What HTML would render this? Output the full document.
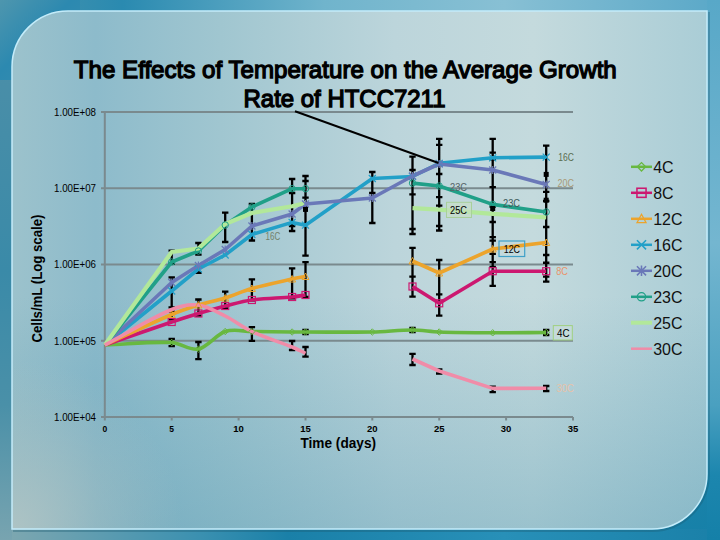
<!DOCTYPE html>
<html><head><meta charset="utf-8"><style>
html,body{margin:0;padding:0;width:720px;height:540px;overflow:hidden;}
svg{display:block;font-family:"Liberation Sans",sans-serif;}
</style></head><body>
<svg width="720" height="540" viewBox="0 0 720 540">
<defs>
<linearGradient id="bgd" x1="0" y1="0" x2="1" y2="1">
<stop offset="0" stop-color="#4a92aa"/><stop offset="0.5" stop-color="#3a90b0"/><stop offset="1" stop-color="#1580a8"/>
</linearGradient>
<linearGradient id="bgt" x1="0" y1="0" x2="1" y2="0">
<stop offset="0" stop-color="#4a94ac"/><stop offset="0.17" stop-color="#2a8ab0"/><stop offset="0.45" stop-color="#70b4cc"/><stop offset="0.7" stop-color="#88c0d4"/><stop offset="1" stop-color="#5aa8c8"/>
</linearGradient>
<linearGradient id="bgb" x1="0" y1="0" x2="1" y2="0">
<stop offset="0" stop-color="#80a8b0"/><stop offset="0.28" stop-color="#3a90b0"/><stop offset="0.4" stop-color="#1a80a8"/><stop offset="0.7" stop-color="#2890b8"/><stop offset="1" stop-color="#1a80a8"/>
</linearGradient>
<linearGradient id="bgl" x1="0" y1="0" x2="0" y2="1">
<stop offset="0" stop-color="#5090a8"/><stop offset="0.5" stop-color="#3a8aa8"/><stop offset="0.75" stop-color="#4a90a8"/><stop offset="1" stop-color="#78a4b0"/>
</linearGradient>
<linearGradient id="bgr" x1="0" y1="0" x2="0" y2="1">
<stop offset="0" stop-color="#58a8c8"/><stop offset="0.45" stop-color="#74b6d0"/><stop offset="0.75" stop-color="#4aa0c0"/><stop offset="0.88" stop-color="#1c86ae"/><stop offset="1" stop-color="#1580a8"/>
</linearGradient>
<linearGradient id="pn" x1="0" y1="0" x2="1" y2="0">
<stop offset="0" stop-color="#9cc2cc"/><stop offset="0.12" stop-color="#8dbbcb"/><stop offset="0.3" stop-color="#a0c6d0"/>
<stop offset="0.55" stop-color="#bcd5db"/><stop offset="0.75" stop-color="#c4dadd"/><stop offset="1" stop-color="#aacdd6"/>
</linearGradient>
<linearGradient id="pnv" x1="0" y1="0" x2="0" y2="1">
<stop offset="0" stop-color="#3a8aa8" stop-opacity="0"/><stop offset="0.55" stop-color="#3a8aa8" stop-opacity="0"/><stop offset="1" stop-color="#3a8aa8" stop-opacity="0.3"/>
</linearGradient>
<linearGradient id="ctl" gradientUnits="userSpaceOnUse" x1="0" y1="0" x2="80" y2="80">
<stop offset="0" stop-color="#4e96ae"/><stop offset="0.45" stop-color="#2c89b0"/><stop offset="1" stop-color="#3a8eb0"/>
</linearGradient>
<radialGradient id="pbl" cx="12" cy="529" r="170" gradientUnits="userSpaceOnUse">
<stop offset="0" stop-color="#b0c4c4" stop-opacity="0.95"/><stop offset="1" stop-color="#b0c4c4" stop-opacity="0"/>
</radialGradient>
</defs>
<rect x="0" y="0" width="720" height="540" fill="url(#bgd)"/>
<rect x="0" y="0" width="720" height="11" fill="url(#bgt)"/>
<rect x="0" y="529" width="720" height="11" fill="url(#bgb)"/>
<rect x="0" y="0" width="12" height="540" fill="url(#bgl)"/>
<rect x="707" y="0" width="13" height="540" fill="url(#bgr)"/>
<rect x="0" y="0" width="80" height="80" fill="url(#ctl)"/>
<path d="M709,12 V474 A57,57 0 0 1 652,531 H13" fill="none" stroke="#1a5a70" stroke-opacity="0.35" stroke-width="2"/>
<path d="M68,11 H707 V474 A55,55 0 0 1 652,529 H12 V67 A56,56 0 0 1 68,11 Z" fill="url(#pn)"/>
<path d="M68,11 H707 V474 A55,55 0 0 1 652,529 H12 V67 A56,56 0 0 1 68,11 Z" fill="url(#pnv)"/>
<path d="M68,11 H707 V474 A55,55 0 0 1 652,529 H12 V67 A56,56 0 0 1 68,11 Z" fill="url(#pbl)"/>
<path d="M68,11 H707 V474 A55,55 0 0 1 652,529 H12 V67 A56,56 0 0 1 68,11 Z" fill="none" stroke="#c4ecfa" stroke-width="1.5"/>
<line x1="101" y1="112" x2="573" y2="112" stroke="#7a8a8e" stroke-width="2"/>
<line x1="101" y1="188.25" x2="573" y2="188.25" stroke="#7a8a8e" stroke-width="2"/>
<line x1="101" y1="264.5" x2="573" y2="264.5" stroke="#7a8a8e" stroke-width="2"/>
<line x1="101" y1="340.75" x2="573" y2="340.75" stroke="#7a8a8e" stroke-width="2"/>
<line x1="101" y1="417" x2="573" y2="417" stroke="#7a8a8e" stroke-width="2"/>
<line x1="104.8" y1="111" x2="104.8" y2="418" stroke="#7a8a8e" stroke-width="2"/>
<line x1="104.8" y1="417" x2="104.8" y2="420.5" stroke="#7a8a8e" stroke-width="2"/>
<line x1="171.7" y1="417" x2="171.7" y2="420.5" stroke="#7a8a8e" stroke-width="2"/>
<line x1="238.6" y1="417" x2="238.6" y2="420.5" stroke="#7a8a8e" stroke-width="2"/>
<line x1="305.5" y1="417" x2="305.5" y2="420.5" stroke="#7a8a8e" stroke-width="2"/>
<line x1="372.3" y1="417" x2="372.3" y2="420.5" stroke="#7a8a8e" stroke-width="2"/>
<line x1="439.2" y1="417" x2="439.2" y2="420.5" stroke="#7a8a8e" stroke-width="2"/>
<line x1="506.1" y1="417" x2="506.1" y2="420.5" stroke="#7a8a8e" stroke-width="2"/>
<line x1="573.0" y1="417" x2="573.0" y2="420.5" stroke="#7a8a8e" stroke-width="2"/>
<path d="M171.7,250.7V263.7 M168.5,250.7H174.9 M168.5,263.7H174.9 M171.7,277.4V307.3 M168.5,277.4H174.9 M168.5,307.3H174.9 M171.7,311.7V319.4 M168.5,311.7H174.9 M168.5,319.4H174.9 M171.7,338.9V346.2 M168.5,338.9H174.9 M168.5,346.2H174.9 M198.4,243V254.6 M195.2,243H201.6 M195.2,254.6H201.6 M198.4,266.3V272.8 M195.2,266.3H201.6 M195.2,272.8H201.6 M198.4,299.5V315.6 M195.2,299.5H201.6 M195.2,315.6H201.6 M198.4,342V359.1 M195.2,342H201.6 M195.2,359.1H201.6 M225.2,212.7V242 M222.0,212.7H228.4 M222.0,242H228.4 M225.2,291.6V308.3 M222.0,291.6H228.4 M222.0,308.3H228.4 M251.9,204V240.5 M248.7,204H255.1 M248.7,240.5H255.1 M251.9,279.3V300.4 M248.7,279.3H255.1 M248.7,300.4H255.1 M251.9,327.2V340.8 M248.7,327.2H255.1 M248.7,340.8H255.1 M292.1,179V231 M288.9,179H295.3 M288.9,193H295.3 M288.9,226H295.3 M288.9,231H295.3 M292.1,268.3V298.3 M288.9,268.3H295.3 M288.9,298.3H295.3 M292.1,341V350 M288.9,341H295.3 M288.9,350H295.3 M305.5,176V255.7 M302.3,176H308.7 M302.3,181H308.7 M302.3,197.6H308.7 M302.3,255.7H308.7 M305.5,262.2V297 M302.3,262.2H308.7 M302.3,297H308.7 M305.5,330V334 M302.3,330H308.7 M302.3,334H308.7 M305.5,347V356.7 M302.3,347H308.7 M302.3,356.7H308.7 M372.3,172V223 M369.1,172H375.5 M369.1,193H375.5 M369.1,223H375.5 M412.5,156.7V234 M409.3,156.7H415.7 M409.3,170H415.7 M409.3,194.3H415.7 M409.3,229H415.7 M409.3,234H415.7 M412.5,247.8V296.7 M409.3,247.8H415.7 M409.3,276.7H415.7 M409.3,296.7H415.7 M412.5,328V332 M409.3,328H415.7 M409.3,332H415.7 M412.5,353.8V365 M409.3,353.8H415.7 M409.3,365H415.7 M439.2,138.9V230.5 M436.0,138.9H442.4 M436.0,144.9H442.4 M436.0,174H442.4 M436.0,197.2H442.4 M436.0,205.6H442.4 M436.0,226H442.4 M436.0,230.5H442.4 M439.2,260V315.6 M436.0,260H442.4 M436.0,294.4H442.4 M436.0,315.6H442.4 M439.2,369.5V373.5 M436.0,369.5H442.4 M436.0,373.5H442.4 M492.7,138.9V285.8 M489.5,138.9H495.9 M489.5,152.7H495.9 M489.5,159.4H495.9 M489.5,187.2H495.9 M489.5,206.7H495.9 M489.5,222H495.9 M489.5,237.2H495.9 M489.5,240.6H495.9 M489.5,253.9H495.9 M489.5,262.2H495.9 M489.5,266.9H495.9 M489.5,285.8H495.9 M492.7,386.7V392.2 M489.5,386.7H495.9 M489.5,392.2H495.9 M546.2,145.6V281.7 M543.0,145.6H549.4 M543.0,191.9H549.4 M543.0,201H549.4 M543.0,227H549.4 M543.0,255H549.4 M543.0,262.75H549.4 M543.0,276.7H549.4 M543.0,281.7H549.4 M546.2,330V335 M543.0,330H549.4 M543.0,335H549.4 M546.2,386V391 M543.0,386H549.4 M543.0,391H549.4" stroke="#000" stroke-width="2.3" fill="none"/>
<path d="M104.8,345.0 C127.1,344.2 149.4,341.5 171.7,342.5 C180.6,342.9 189.5,350.8 198.4,349.0 C207.4,347.2 216.3,334.4 225.2,331.5 C234.1,328.6 243.0,331.4 251.9,331.5 C265.3,331.6 278.7,331.9 292.1,332.0 C296.5,332.0 301.0,332.0 305.5,332.0 C327.8,332.0 350.0,332.4 372.3,332.0 C385.7,331.8 399.1,330.0 412.5,330.0 C421.4,330.0 430.3,331.7 439.2,332.0 C457.1,332.6 474.9,332.7 492.7,332.8 C510.6,332.9 528.4,332.6 546.2,332.5" fill="none" stroke="#68b840" stroke-width="3.6" stroke-linejoin="round"/>
<path d="M104.8,345.0 C127.1,337.3 149.4,329.5 171.7,322.0 C180.6,319.0 189.5,316.2 198.4,313.5 C207.4,310.8 216.3,308.2 225.2,306.0 C234.1,303.8 243.0,301.2 251.9,300.0 C265.3,298.2 278.7,298.2 292.1,297.0 C296.5,296.6 301.0,295.7 305.5,295.0" fill="none" stroke="#cc1870" stroke-width="3.6" stroke-linejoin="round"/>
<path d="M412.5,286.5 L439.2,303.3 L492.7,271.2 L546.2,271.2" fill="none" stroke="#cc1870" stroke-width="3.6" stroke-linejoin="round"/>
<path d="M104.8,345.0 C127.1,334.8 149.4,324.0 171.7,314.5 C180.6,310.7 189.5,307.8 198.4,305.0 C207.4,302.2 216.3,300.8 225.2,298.0 C234.1,295.2 243.0,291.0 251.9,288.5 C265.3,284.7 278.7,282.0 292.1,279.0 C296.5,278.0 301.0,277.3 305.5,276.5" fill="none" stroke="#eca42c" stroke-width="3.6" stroke-linejoin="round"/>
<path d="M412.5,261.0 L439.2,273.0 L492.7,249.0 L546.2,242.5" fill="none" stroke="#eca42c" stroke-width="3.6" stroke-linejoin="round"/>
<path d="M104.8,345.0 L171.7,291.0 L198.4,269.0 L225.2,255.0 L251.9,234.5 L292.1,222.4 L305.5,225.2 L372.3,178.5 L412.5,176.5 L439.2,163.3 L492.7,157.8 L546.2,157.1" fill="none" stroke="#22a0c8" stroke-width="3.6" stroke-linejoin="round"/>
<path d="M104.8,345.0 L171.7,282.5 L198.4,265.5 L225.2,249.5 L251.9,226.0 L292.1,214.0 L305.5,204.0 L372.3,198.0 L412.5,176.0 L439.2,164.0 L492.7,170.0 L546.2,184.4" fill="none" stroke="#6a78b8" stroke-width="3.6" stroke-linejoin="round"/>
<path d="M104.8,345.0 L171.7,262.0 L198.4,251.0 L225.2,225.0 L251.9,207.0 L292.1,188.7 L305.5,188.7" fill="none" stroke="#20a088" stroke-width="3.6" stroke-linejoin="round"/>
<path d="M412.5,183.1 L439.2,186.0 L492.7,204.4 L546.2,212.0" fill="none" stroke="#20a088" stroke-width="3.6" stroke-linejoin="round"/>
<path d="M104.8,345.0 L171.7,252.0 L198.4,248.5 L225.2,224.0 L251.9,213.0 L292.1,206.3 L305.5,203.0" fill="none" stroke="#b2e89a" stroke-width="4.2" stroke-linejoin="round"/>
<path d="M412.5,208.1 L439.2,209.6 L492.7,213.8 L546.2,217.4" fill="none" stroke="#b2e89a" stroke-width="4.2" stroke-linejoin="round"/>
<path d="M104.8,345.0 C127.1,333.2 149.4,319.0 171.7,309.5 C180.6,305.7 189.5,303.9 198.4,305.0 C207.4,306.1 216.3,311.6 225.2,316.0 C234.1,320.4 243.0,327.4 251.9,331.5 C265.3,337.7 278.7,341.6 292.1,347.0 C296.5,348.8 301.0,351.2 305.5,353.3" fill="none" stroke="#f08ca8" stroke-width="3.6" stroke-linejoin="round"/>
<path d="M412.5,359.0 L439.2,371.0 L492.7,388.4 L546.2,388.2" fill="none" stroke="#f08ca8" stroke-width="3.6" stroke-linejoin="round"/>
<path d="M168.5,342.5 L171.7,339.3 L174.9,342.5 L171.7,345.7 Z" fill="none" stroke="#68b840" stroke-width="1"/>
<path d="M195.2,349.0 L198.4,345.8 L201.6,349.0 L198.4,352.2 Z" fill="none" stroke="#68b840" stroke-width="1"/>
<path d="M222.0,331.5 L225.2,328.3 L228.4,331.5 L225.2,334.7 Z" fill="none" stroke="#68b840" stroke-width="1"/>
<path d="M248.7,331.5 L251.9,328.3 L255.1,331.5 L251.9,334.7 Z" fill="none" stroke="#68b840" stroke-width="1"/>
<path d="M288.9,332.0 L292.1,328.8 L295.3,332.0 L292.1,335.2 Z" fill="none" stroke="#68b840" stroke-width="1"/>
<path d="M302.3,332.0 L305.5,328.8 L308.7,332.0 L305.5,335.2 Z" fill="none" stroke="#68b840" stroke-width="1"/>
<path d="M369.1,332.0 L372.3,328.8 L375.5,332.0 L372.3,335.2 Z" fill="none" stroke="#68b840" stroke-width="1"/>
<path d="M409.3,330.0 L412.5,326.8 L415.7,330.0 L412.5,333.2 Z" fill="none" stroke="#68b840" stroke-width="1"/>
<path d="M436.0,332.0 L439.2,328.8 L442.4,332.0 L439.2,335.2 Z" fill="none" stroke="#68b840" stroke-width="1"/>
<path d="M489.5,332.8 L492.7,329.6 L495.9,332.8 L492.7,336.0 Z" fill="none" stroke="#68b840" stroke-width="1"/>
<path d="M543.0,332.5 L546.2,329.3 L549.4,332.5 L546.2,335.7 Z" fill="none" stroke="#68b840" stroke-width="1"/>
<rect x="168.2" y="318.5" width="7" height="7" fill="none" stroke="#cc1870" stroke-width="1.2"/>
<rect x="194.9" y="310.0" width="7" height="7" fill="none" stroke="#cc1870" stroke-width="1.2"/>
<rect x="221.7" y="302.5" width="7" height="7" fill="none" stroke="#cc1870" stroke-width="1.2"/>
<rect x="248.4" y="296.5" width="7" height="7" fill="none" stroke="#cc1870" stroke-width="1.2"/>
<rect x="288.6" y="293.5" width="7" height="7" fill="none" stroke="#cc1870" stroke-width="1.2"/>
<rect x="302.0" y="291.5" width="7" height="7" fill="none" stroke="#cc1870" stroke-width="1.2"/>
<rect x="409.0" y="283.0" width="7" height="7" fill="none" stroke="#cc1870" stroke-width="1.2"/>
<rect x="435.7" y="299.8" width="7" height="7" fill="none" stroke="#cc1870" stroke-width="1.2"/>
<rect x="489.2" y="267.7" width="7" height="7" fill="none" stroke="#cc1870" stroke-width="1.2"/>
<rect x="542.7" y="267.7" width="7" height="7" fill="none" stroke="#cc1870" stroke-width="1.2"/>
<path d="M168.2,317.5 L171.7,311.0 L175.2,317.5 Z" fill="none" stroke="#eca42c" stroke-width="1"/>
<path d="M194.9,308.0 L198.4,301.5 L201.9,308.0 Z" fill="none" stroke="#eca42c" stroke-width="1"/>
<path d="M221.7,301.0 L225.2,294.5 L228.7,301.0 Z" fill="none" stroke="#eca42c" stroke-width="1"/>
<path d="M248.4,291.5 L251.9,285.0 L255.4,291.5 Z" fill="none" stroke="#eca42c" stroke-width="1"/>
<path d="M288.6,282.0 L292.1,275.5 L295.6,282.0 Z" fill="none" stroke="#eca42c" stroke-width="1"/>
<path d="M302.0,279.5 L305.5,273.0 L309.0,279.5 Z" fill="none" stroke="#eca42c" stroke-width="1"/>
<path d="M409.0,264.0 L412.5,257.5 L416.0,264.0 Z" fill="none" stroke="#eca42c" stroke-width="1"/>
<path d="M435.7,276.0 L439.2,269.5 L442.7,276.0 Z" fill="none" stroke="#eca42c" stroke-width="1"/>
<path d="M489.2,252.0 L492.7,245.5 L496.2,252.0 Z" fill="none" stroke="#eca42c" stroke-width="1"/>
<path d="M542.7,245.5 L546.2,239.0 L549.7,245.5 Z" fill="none" stroke="#eca42c" stroke-width="1"/>
<path d="M168.2,287.5 L175.2,294.5 M168.2,294.5 L175.2,287.5" stroke="#22a0c8" stroke-width="1.2"/>
<path d="M194.9,265.5 L201.9,272.5 M194.9,272.5 L201.9,265.5" stroke="#22a0c8" stroke-width="1.2"/>
<path d="M221.7,251.5 L228.7,258.5 M221.7,258.5 L228.7,251.5" stroke="#22a0c8" stroke-width="1.2"/>
<path d="M248.4,231.0 L255.4,238.0 M248.4,238.0 L255.4,231.0" stroke="#22a0c8" stroke-width="1.2"/>
<path d="M288.6,218.9 L295.6,225.9 M288.6,225.9 L295.6,218.9" stroke="#22a0c8" stroke-width="1.2"/>
<path d="M302.0,221.7 L309.0,228.7 M302.0,228.7 L309.0,221.7" stroke="#22a0c8" stroke-width="1.2"/>
<path d="M368.8,175.0 L375.8,182.0 M368.8,182.0 L375.8,175.0" stroke="#22a0c8" stroke-width="1.2"/>
<path d="M409.0,173.0 L416.0,180.0 M409.0,180.0 L416.0,173.0" stroke="#22a0c8" stroke-width="1.2"/>
<path d="M435.7,159.8 L442.7,166.8 M435.7,166.8 L442.7,159.8" stroke="#22a0c8" stroke-width="1.2"/>
<path d="M489.2,154.3 L496.2,161.3 M489.2,161.3 L496.2,154.3" stroke="#22a0c8" stroke-width="1.2"/>
<path d="M542.7,153.6 L549.7,160.6 M542.7,160.6 L549.7,153.6" stroke="#22a0c8" stroke-width="1.2"/>
<path d="M168.2,279.0 L175.2,286.0 M168.2,286.0 L175.2,279.0 M171.7,278.5 L171.7,286.5" stroke="#6a78b8" stroke-width="1.2"/>
<path d="M194.9,262.0 L201.9,269.0 M194.9,269.0 L201.9,262.0 M198.4,261.5 L198.4,269.5" stroke="#6a78b8" stroke-width="1.2"/>
<path d="M221.7,246.0 L228.7,253.0 M221.7,253.0 L228.7,246.0 M225.2,245.5 L225.2,253.5" stroke="#6a78b8" stroke-width="1.2"/>
<path d="M248.4,222.5 L255.4,229.5 M248.4,229.5 L255.4,222.5 M251.9,222.0 L251.9,230.0" stroke="#6a78b8" stroke-width="1.2"/>
<path d="M288.6,210.5 L295.6,217.5 M288.6,217.5 L295.6,210.5 M292.1,210.0 L292.1,218.0" stroke="#6a78b8" stroke-width="1.2"/>
<path d="M302.0,200.5 L309.0,207.5 M302.0,207.5 L309.0,200.5 M305.5,200.0 L305.5,208.0" stroke="#6a78b8" stroke-width="1.2"/>
<path d="M368.8,194.5 L375.8,201.5 M368.8,201.5 L375.8,194.5 M372.3,194.0 L372.3,202.0" stroke="#6a78b8" stroke-width="1.2"/>
<path d="M409.0,172.5 L416.0,179.5 M409.0,179.5 L416.0,172.5 M412.5,172.0 L412.5,180.0" stroke="#6a78b8" stroke-width="1.2"/>
<path d="M435.7,160.5 L442.7,167.5 M435.7,167.5 L442.7,160.5 M439.2,160.0 L439.2,168.0" stroke="#6a78b8" stroke-width="1.2"/>
<path d="M489.2,166.5 L496.2,173.5 M489.2,173.5 L496.2,166.5 M492.7,166.0 L492.7,174.0" stroke="#6a78b8" stroke-width="1.2"/>
<path d="M542.7,180.9 L549.7,187.9 M542.7,187.9 L549.7,180.9 M546.2,180.4 L546.2,188.4" stroke="#6a78b8" stroke-width="1.2"/>
<circle cx="171.7" cy="262.0" r="3.2" fill="none" stroke="#20a088" stroke-width="1"/>
<circle cx="198.4" cy="251.0" r="3.2" fill="none" stroke="#20a088" stroke-width="1"/>
<circle cx="225.2" cy="225.0" r="3.2" fill="none" stroke="#20a088" stroke-width="1"/>
<circle cx="251.9" cy="207.0" r="3.2" fill="none" stroke="#20a088" stroke-width="1"/>
<circle cx="292.1" cy="188.7" r="3.2" fill="none" stroke="#20a088" stroke-width="1"/>
<circle cx="305.5" cy="188.7" r="3.2" fill="none" stroke="#20a088" stroke-width="1"/>
<circle cx="412.5" cy="183.1" r="3.2" fill="none" stroke="#20a088" stroke-width="1"/>
<circle cx="439.2" cy="186.0" r="3.2" fill="none" stroke="#20a088" stroke-width="1"/>
<circle cx="492.7" cy="204.4" r="3.2" fill="none" stroke="#20a088" stroke-width="1"/>
<circle cx="546.2" cy="212.0" r="3.2" fill="none" stroke="#20a088" stroke-width="1"/>
<rect x="490.2" y="206.0" width="5" height="5" fill="#000"/>
<rect x="543.7" y="171.9" width="5" height="5" fill="#000"/>
<rect x="543.7" y="197.7" width="5" height="5" fill="#000"/>
<rect x="303.0" y="206.9" width="5" height="5" fill="#000"/>
<line x1="295" y1="111.2" x2="438.5" y2="163" stroke="#000" stroke-width="2"/>
<text x="265.6" y="239.8" font-size="10.5" fill="#70806a" textLength="14.599999999999966" lengthAdjust="spacingAndGlyphs">16C</text>
<text x="558.3" y="160.8" font-size="10.5" fill="#5a6e50" textLength="15.700000000000045" lengthAdjust="spacingAndGlyphs">16C</text>
<text x="557.5" y="187.4" font-size="10.5" fill="#a89a78" textLength="16.5" lengthAdjust="spacingAndGlyphs">20C</text>
<text x="450" y="190.6" font-size="10.5" fill="#566468" textLength="17" lengthAdjust="spacingAndGlyphs">23C</text>
<text x="503" y="207.4" font-size="10.5" fill="#3e5c5c" textLength="17" lengthAdjust="spacingAndGlyphs">23C</text>
<rect x="446.5" y="202.3" width="25" height="15.2" fill="#c8e0c4" fill-opacity="0.6" stroke="#a8d09a" stroke-width="1"/>
<text x="450" y="213.8" font-size="10.5" fill="#000" textLength="17" lengthAdjust="spacingAndGlyphs">25C</text>
<rect x="499" y="241" width="25.7" height="15.5" fill="none" stroke="#40a0c8" stroke-width="1.2"/>
<text x="503.7" y="253.2" font-size="10.5" fill="#000" textLength="16.30000000000001" lengthAdjust="spacingAndGlyphs">12C</text>
<text x="556.2" y="274.8" font-size="10.5" fill="#e8946a" textLength="11.799999999999955" lengthAdjust="spacingAndGlyphs">8C</text>
<rect x="553.3" y="325.6" width="19" height="14.4" fill="#c4dada" stroke="#a0d080" stroke-width="1"/>
<text x="557" y="336.5" font-size="10.5" fill="#000" textLength="12.5" lengthAdjust="spacingAndGlyphs">4C</text>
<text x="556.5" y="391.8" font-size="10.5" fill="#e6c2aa" textLength="17.5" lengthAdjust="spacingAndGlyphs">30C</text>
<text x="54" y="115.8" font-size="10" fill="#000" textLength="42" lengthAdjust="spacingAndGlyphs">1.00E+08</text>
<text x="54" y="192.1" font-size="10" fill="#000" textLength="42" lengthAdjust="spacingAndGlyphs">1.00E+07</text>
<text x="54" y="268.3" font-size="10" fill="#000" textLength="42" lengthAdjust="spacingAndGlyphs">1.00E+06</text>
<text x="54" y="344.6" font-size="10" fill="#000" textLength="42" lengthAdjust="spacingAndGlyphs">1.00E+05</text>
<text x="54" y="420.8" font-size="10" fill="#000" textLength="42" lengthAdjust="spacingAndGlyphs">1.00E+04</text>
<text x="104.8" y="432" text-anchor="middle" font-size="8.5" font-weight="bold" fill="#000">0</text>
<text x="171.7" y="432" text-anchor="middle" font-size="8.5" font-weight="bold" fill="#000">5</text>
<text x="233.3" y="432" font-size="8.5" font-weight="bold" fill="#000" textLength="10.6" lengthAdjust="spacingAndGlyphs">10</text>
<text x="300.2" y="432" font-size="8.5" font-weight="bold" fill="#000" textLength="10.6" lengthAdjust="spacingAndGlyphs">15</text>
<text x="367.0" y="432" font-size="8.5" font-weight="bold" fill="#000" textLength="10.6" lengthAdjust="spacingAndGlyphs">20</text>
<text x="433.9" y="432" font-size="8.5" font-weight="bold" fill="#000" textLength="10.6" lengthAdjust="spacingAndGlyphs">25</text>
<text x="500.8" y="432" font-size="8.5" font-weight="bold" fill="#000" textLength="10.6" lengthAdjust="spacingAndGlyphs">30</text>
<text x="567.7" y="432" font-size="8.5" font-weight="bold" fill="#000" textLength="10.6" lengthAdjust="spacingAndGlyphs">35</text>
<text x="300.5" y="448.4" font-size="14" font-weight="bold" fill="#000" textLength="75.5" lengthAdjust="spacingAndGlyphs">Time (days)</text>
<text transform="translate(42.2,342.6) rotate(-90)" font-size="14.5" font-weight="bold" fill="#000" textLength="128" lengthAdjust="spacingAndGlyphs">Cells/mL (Log scale)</text>
<text x="73.8" y="77.5" font-size="24" fill="#000" stroke="#000" stroke-width="1.3" textLength="543" lengthAdjust="spacingAndGlyphs">The Effects of Temperature on the Average Growth</text>
<text x="243.5" y="106.7" font-size="24" fill="#000" stroke="#000" stroke-width="1.3" textLength="202" lengthAdjust="spacingAndGlyphs">Rate of HTCC7211</text>
<line x1="631" y1="166.8" x2="652" y2="166.8" stroke="#68b840" stroke-width="2.5"/>
<g transform="translate(641.5,166.8) scale(1.3)"><path d="M-3.2,0.0 L0.0,-3.2 L3.2,0.0 L0.0,3.2 Z" fill="none" stroke="#68b840" stroke-width="1"/></g>
<text x="653.2" y="172.8" font-size="16" fill="#111" textLength="20.4" lengthAdjust="spacingAndGlyphs">4C</text>
<line x1="631" y1="192.8" x2="652" y2="192.8" stroke="#cc1870" stroke-width="2.5"/>
<g transform="translate(641.5,192.8) scale(1.3)"><rect x="-3.5" y="-3.5" width="7" height="7" fill="none" stroke="#cc1870" stroke-width="1.2"/></g>
<text x="653.2" y="198.8" font-size="16" fill="#111" textLength="20.4" lengthAdjust="spacingAndGlyphs">8C</text>
<line x1="631" y1="218.8" x2="652" y2="218.8" stroke="#eca42c" stroke-width="2.5"/>
<g transform="translate(641.5,218.8) scale(1.3)"><path d="M-3.5,3.0 L0.0,-3.5 L3.5,3.0 Z" fill="none" stroke="#eca42c" stroke-width="1"/></g>
<text x="653.2" y="224.8" font-size="16" fill="#111" textLength="29.3" lengthAdjust="spacingAndGlyphs">12C</text>
<line x1="631" y1="244.8" x2="652" y2="244.8" stroke="#22a0c8" stroke-width="2.5"/>
<g transform="translate(641.5,244.8) scale(1.3)"><path d="M-3.5,-3.5 L3.5,3.5 M-3.5,3.5 L3.5,-3.5" stroke="#22a0c8" stroke-width="1.2"/></g>
<text x="653.2" y="250.8" font-size="16" fill="#111" textLength="29.3" lengthAdjust="spacingAndGlyphs">16C</text>
<line x1="631" y1="270.8" x2="652" y2="270.8" stroke="#6a78b8" stroke-width="2.5"/>
<g transform="translate(641.5,270.8) scale(1.3)"><path d="M-3.5,-3.5 L3.5,3.5 M-3.5,3.5 L3.5,-3.5 M0.0,-4.0 L0.0,4.0" stroke="#6a78b8" stroke-width="1.2"/></g>
<text x="653.2" y="276.8" font-size="16" fill="#111" textLength="29.3" lengthAdjust="spacingAndGlyphs">20C</text>
<line x1="631" y1="296.8" x2="652" y2="296.8" stroke="#20a088" stroke-width="2.5"/>
<g transform="translate(641.5,296.8) scale(1.3)"><circle cx="0.0" cy="0.0" r="3.2" fill="none" stroke="#20a088" stroke-width="1"/></g>
<text x="653.2" y="302.8" font-size="16" fill="#111" textLength="29.3" lengthAdjust="spacingAndGlyphs">23C</text>
<line x1="631" y1="322.7" x2="652" y2="322.7" stroke="#b2e89a" stroke-width="4"/>
<text x="653.2" y="328.7" font-size="16" fill="#111" textLength="29.3" lengthAdjust="spacingAndGlyphs">25C</text>
<line x1="631" y1="348.7" x2="652" y2="348.7" stroke="#f08ca8" stroke-width="2.5"/>
<text x="653.2" y="354.7" font-size="16" fill="#111" textLength="29.3" lengthAdjust="spacingAndGlyphs">30C</text>
</svg>
</body></html>
